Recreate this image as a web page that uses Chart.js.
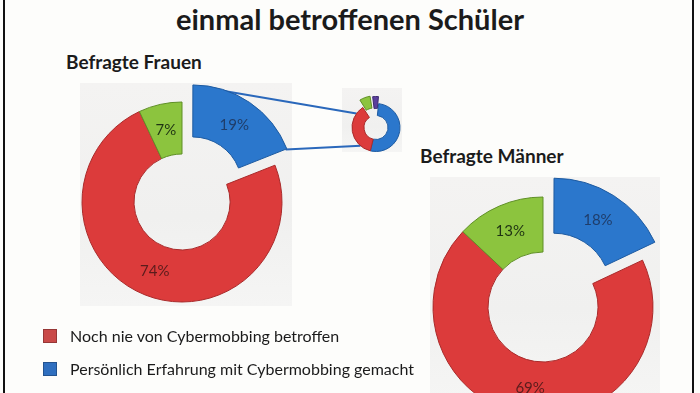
<!DOCTYPE html>
<html lang="de">
<head>
<meta charset="UTF-8">
<title>Cybermobbing - Befragte Frauen / Männer</title>
<script src="https://cdn.jsdelivr.net/npm/chart.js@4.4.0"></script>
<style>
  html, body { margin: 0; padding: 0; }
  body {
    width: 700px; height: 393px; overflow: hidden; position: relative;
    background: #fdfdfb; font-family: Lato, 'Open Sans', sans-serif; color: #1b1b1b;
  }
  .frame {
    position: absolute; left: 3px; top: -4px; width: 687px; height: 410px;
    border-left: 2px solid #111; border-right: 2px solid #111;
  }
  .title {
    position: absolute; left: 0; width: 700px; top: 0px; text-align: center;
    font-weight: 700; font-size: 29px; line-height: 38px;
  }
  .sub { position: absolute; font-weight: 700; font-size: 19px; line-height: 22px; }
  .plot-bg {
    position: absolute;
    background: linear-gradient(180deg, #f4f3f2 0%, #f0f0ef 60%, #f5f5f4 100%);
  }
  canvas { position: absolute; }
  .legend { position: absolute; left: 43px; top: 319px; font-size: 16px; }
  .legend-item { display: flex; align-items: center; height: 33px; }
  .legend-color {
    width: 12px; height: 12px; margin-right: 13px; border: 1px solid rgba(0,0,0,0.25);
  }
</style>
</head>
<body>
  <div class="frame"></div>
  <div class="title">einmal betroffenen Schüler</div>
  <div class="sub" style="left:66px; top:51px;">Befragte Frauen</div>
  <div class="sub" style="left:420px; top:145px;">Befragte Männer</div>

  <div class="plot-bg" style="left:80px; top:83px; width:212px; height:223px;"></div>
  <div class="plot-bg" style="left:342px; top:88px; width:60px; height:64px;"></div>
  <div class="plot-bg" style="left:430px; top:177px; width:230px; height:220px;"></div>

  <canvas id="frauenChart" width="420" height="324" style="left:0; top:40px;"></canvas>
  <canvas id="detailChart" width="72" height="95" style="left:340px; top:80px;"></canvas>
  <canvas id="maennerChart" width="240" height="280" style="left:423px; top:167px;"></canvas>

  <div class="legend">
    <div class="legend-item"><div class="legend-color" style="background:#c94a48;"></div>Noch nie von Cybermobbing betroffen</div>
    <div class="legend-item"><div class="legend-color" style="background:#2f6fbf;"></div>Persönlich Erfahrung mit Cybermobbing gemacht</div>
  </div>

<script>
// Reihenfolge im Uhrzeigersinn ab 12 Uhr: blau, rot, grün
const categories = ['Persönlich Erfahrung mit Cybermobbing gemacht', 'Noch nie von Cybermobbing betroffen', 'Sonstige'];
const frauenValues = [19, 74, 7];
const maennerValues = [18, 69, 13];

// kleiner Detail-Ring (geschätzt)
const detailCategories = ['a', 'b', 'c', 'd'];
const detailValues = [4, 52, 37, 7];

const fillColors = ['#2b77cc', '#dc3b3b', '#8cc43e'];
const edgeColors = ['#1d5aa0', '#a92a2a', '#5f8f26'];
const textColors = ['#1f3d6a', '#5a1c1c', '#1f3313'];
const detailFill = ['#5a3f9c', '#2b77cc', '#dc3b3b', '#8cc43e'];
const detailEdge = ['#3d2a70', '#1d5aa0', '#a92a2a', '#5f8f26'];

// Chart.js verschiebt ein Segment um offset / 4
const shiftOf = (arc) => (arc.options.offset || 0) / 4;

// Prozentwerte in die Segmente schreiben
const percentLabels = {
  id: 'percentLabels',
  afterDatasetsDraw(chart) {
    const ctx = chart.ctx;
    const meta = chart.getDatasetMeta(0);
    const values = chart.data.datasets[0].data;
    ctx.save();
    ctx.font = '15px Lato, sans-serif';
    ctx.textAlign = 'center';
    ctx.textBaseline = 'middle';
    meta.data.forEach((arc, i) => {
      const p = arc.getProps(['x', 'y', 'startAngle', 'endAngle', 'innerRadius', 'outerRadius']);
      const mid = (p.startAngle + p.endAngle) / 2;
      const r = (p.innerRadius + p.outerRadius) / 2 + shiftOf(arc);
      ctx.fillStyle = textColors[i];
      ctx.fillText(values[i] + '%', p.x + Math.cos(mid) * r, p.y + Math.sin(mid) * r);
    });
    ctx.restore();
  }
};

// Verbindungslinien vom blauen Segment zum Detail-Ring
const connector = {
  id: 'connector',
  beforeDatasetsDraw(chart) {
    const detail = Chart.getChart('detailChart');
    if (!detail) return;
    const blue = chart.getDatasetMeta(0).data[0];
    const b = blue.getProps(['x', 'y', 'startAngle', 'endAngle', 'outerRadius']);
    const off = shiftOf(blue);
    const bm = (b.startAngle + b.endAngle) / 2;
    const bx = b.x + Math.cos(bm) * off, by = b.y + Math.sin(bm) * off;

    const dx = detail.canvas.offsetLeft - chart.canvas.offsetLeft;
    const dy = detail.canvas.offsetTop - chart.canvas.offsetTop;
    const red = detail.getDatasetMeta(0).data[2];
    const d = red.getProps(['x', 'y', 'startAngle', 'endAngle', 'outerRadius']);
    const span = d.endAngle - d.startAngle;
    const aTop = d.endAngle - span * 0.16;
    const aBot = d.startAngle + span * 0.2;

    const ctx = chart.ctx;
    ctx.save();
    ctx.strokeStyle = '#2a68bb';
    ctx.lineWidth = 2;
    ctx.beginPath();
    ctx.moveTo(bx + Math.cos(b.startAngle + 0.05) * b.outerRadius, by + Math.sin(b.startAngle + 0.05) * b.outerRadius);
    ctx.lineTo(dx + d.x + Math.cos(aTop) * d.outerRadius, dy + d.y + Math.sin(aTop) * d.outerRadius);
    ctx.moveTo(bx + Math.cos(b.endAngle) * b.outerRadius, by + Math.sin(b.endAngle) * b.outerRadius);
    ctx.lineTo(dx + d.x + Math.cos(aBot) * d.outerRadius, dy + d.y + Math.sin(aBot) * d.outerRadius);
    ctx.stroke();
    ctx.restore();
  }
};

function ringOptions(radius, cutout, padding) {
  return {
    responsive: false,
    animation: false,
    radius: radius,
    cutout: cutout,
    rotation: 0,
    layout: { padding: padding || 0 },
    plugins: { legend: { display: false }, tooltip: { enabled: false } }
  };
}

new Chart(document.getElementById('detailChart'), {
  type: 'doughnut',
  data: {
    labels: detailCategories,
    datasets: [{
      data: detailValues,
      backgroundColor: detailFill,
      borderColor: detailEdge,
      borderWidth: 1,
      offset: [16, 0, 0, 20]
    }]
  },
  options: Object.assign(ringOptions(24, '50%'), { rotation: -8 })
});

new Chart(document.getElementById('frauenChart'), {
  type: 'doughnut',
  data: {
    labels: categories,
    datasets: [{
      data: frauenValues,
      backgroundColor: fillColors,
      borderColor: edgeColors,
      borderWidth: 1,
      offset: [76, 0, 0]
    }]
  },
  options: ringOptions(100, '48%', { right: 56 }),
  plugins: [connector, percentLabels]
});

new Chart(document.getElementById('maennerChart'), {
  type: 'doughnut',
  data: {
    labels: categories,
    datasets: [{
      data: maennerValues,
      backgroundColor: fillColors,
      borderColor: edgeColors,
      borderWidth: 1,
      offset: [80, 0, 0]
    }]
  },
  options: ringOptions(110, '50%'),
  plugins: [percentLabels]
});
</script>
</body>
</html>
